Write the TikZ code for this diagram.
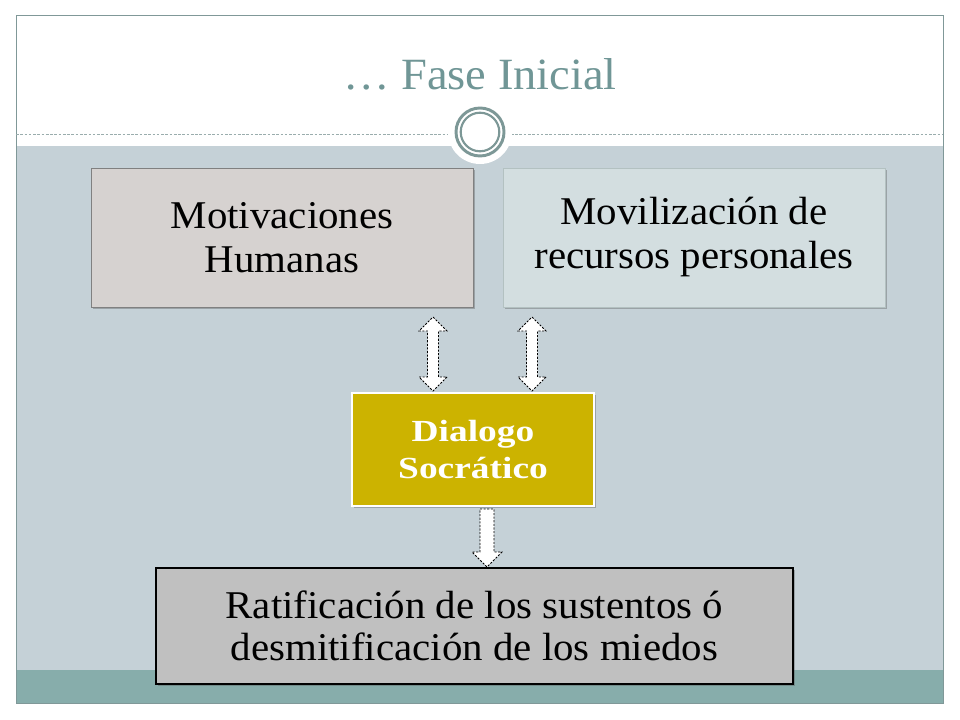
\documentclass[tikz,border=0pt]{standalone}
\usepackage{fontspec}
\setmainfont{Liberation Serif}[FakeStretch=1.04]
\newfontfamily\dlgfont{Liberation Serif}[FakeStretch=1.22]
\usetikzlibrary{shadows,calc}
\definecolor{bgblue}{RGB}{197,209,215}
\definecolor{barteal}{RGB}{135,173,171}
\definecolor{framecol}{RGB}{128,152,152}
\definecolor{titlecol}{RGB}{112,150,150}
\definecolor{boxa}{RGB}{214,210,208}
\definecolor{boxb}{RGB}{211,222,224}
\definecolor{gold}{RGB}{204,179,0}
\definecolor{boxd}{RGB}{192,192,192}
\definecolor{ringcol}{RGB}{125,152,151}
\tikzset{
  boxshadow/.style={drop shadow={shadow xshift=1.5pt,shadow yshift=-1.5pt,opacity=0.35,fill=black!70}},
  topbox/.style={rectangle,inner sep=0pt,outer sep=0pt,minimum width=286.5pt,minimum height=104.25pt,
    align=center,font=\fontsize{29.5}{33}\selectfont,boxshadow},
  blockarrow/.style={draw=black,fill=white,line width=0.6pt,dash pattern=on 1.6pt off 1.1pt,line join=miter},
}
\begin{document}
\begin{tikzpicture}[x=0.75pt,y=-0.75pt]
\useasboundingbox (0,0) rectangle (960,720);
\fill[white] (0,0) rectangle (960,720);
% background panels
\fill[bgblue] (16,146) rectangle (943,670);
\fill[barteal] (16,670) rectangle (943,703);
\draw[framecol,line width=0.75pt] (16,16) rectangle (943,703);
\draw[framecol!80,line width=0.6pt,dash pattern=on 2pt off 1.2pt] (16,134) -- (943,134);
% ring ornament
\fill[white] (480,132) circle[radius=32];
\draw[ringcol,line width=2.2pt] (480,132) circle[radius=24];
\draw[ringcol,line width=1.6pt] (480,132) circle[radius=19.3];
% title
\node[anchor=base,text=titlecol,font=\fontsize{33.5}{38}\selectfont] (title) at (480,90) {… Fase Inicial};
% boxes
\node[topbox,fill=boxa,draw=black!50,line width=0.6pt] (m) at (282,237.5) {Motivaciones\\Humanas};
\node[topbox,fill=boxb,draw=framecol!60,line width=0.6pt] (r) at (694,237.5) {Movilización de\\recursos personales};
\node[rectangle,inner sep=0pt,outer sep=0pt,minimum width=181.5pt,minimum height=84.75pt,fill=gold,draw=white,line width=1.8pt,
  align=center,text=white,font=\dlgfont\bfseries\fontsize{23}{28}\selectfont,boxshadow] (d) at (473,449.5) {Dialogo\\Socrático};
\node[rectangle,inner sep=0pt,outer sep=0pt,minimum width=477.75pt,minimum height=87pt,fill=boxd,draw=black,line width=0.8pt,
  align=center,font=\fontsize{29.5}{31.5}\selectfont,boxshadow] (s) at (474.5,626) {Ratificación de los sustentos ó\\desmitificación de los miedos};
% connectors (block arrows)
\path (433,0 |- m.south) ++(0,10) coordinate (a1t);
\path (532,0 |- r.south) ++(0,10) coordinate (a2t);
\path (480,0 |- d.south) ++(0,3) coordinate (a3t);
\draw[blockarrow] (a1t) -- ++(14,14) -- ++(-8.5,0) -- ++(0,46) -- ++(8.5,0) -- ++(-14,14)
  -- ++(-14,-14) -- ++(8.5,0) -- ++(0,-46) -- ++(-8.5,0) -- cycle;
\draw[blockarrow] (a2t) -- ++(14,14) -- ++(-8.5,0) -- ++(0,46) -- ++(8.5,0) -- ++(-14,14)
  -- ++(-14,-14) -- ++(8.5,0) -- ++(0,-46) -- ++(-8.5,0) -- cycle;
\draw[blockarrow] (a3t) -- ++(14,0) -- ++(0,43) -- ++(8,0) -- ++(-15,15) -- ++(-15,-15) -- ++(8,0) -- cycle;
\end{tikzpicture}
\end{document}
